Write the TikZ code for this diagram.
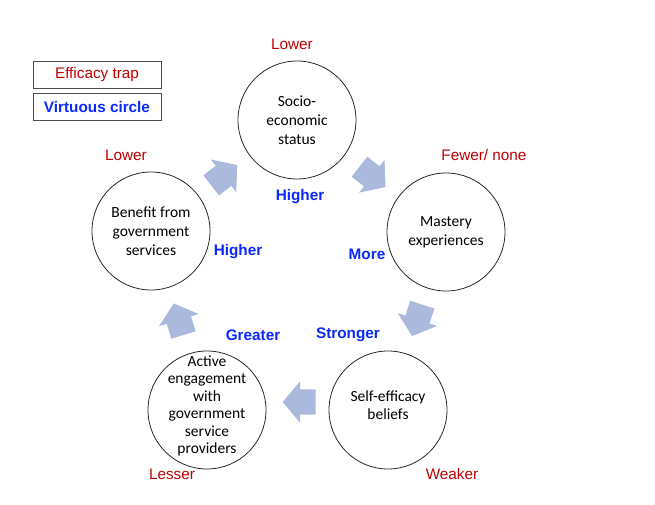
\documentclass[tikz,border=0pt]{standalone}
\usepackage{fontspec}
\setmainfont{Carlito}
\newfontfamily\arialfont{Liberation Sans}
\usetikzlibrary{shapes.arrows, calc, positioning}
\definecolor{trapred}{RGB}{192,0,0}
\definecolor{circleblue}{RGB}{10,40,255}
\definecolor{arrowblue}{RGB}{170,185,220}
\tikzstyle{stage} = [circle, draw=black!85, line width=0.8pt, minimum size=118pt, inner sep=0pt, align=center, font=\fontsize{15.5}{19}\selectfont]
\tikzstyle{stagetext} = [align=center, inner sep=0pt, font=\fontsize{15.5}{17.5}\selectfont]
\tikzstyle{flow} = [single arrow, fill=arrowblue, draw=none, minimum height=33pt, inner xsep=0pt, inner ysep=12.5pt, single arrow head extend=8pt, single arrow tip angle=100]
\tikzstyle{trap} = [text=trapred, font=\arialfont\fontsize{15.3}{18}\selectfont]
\tikzstyle{virtue} = [text=circleblue, font=\arialfont\bfseries\fontsize{15.3}{18}\selectfont]
\tikzstyle{legend} = [draw=black!70, line width=0.8pt, minimum width=128pt, minimum height=27pt, inner sep=0pt]

\begin{document}
\begin{tikzpicture}[x=1pt, y=1pt]
  \useasboundingbox (0,0) rectangle (655,505);

  % Legend
  \node[legend, trap] (keytrap) at (97,430) {Efficacy trap};
  \node[legend, virtue] (keyvirtue) at (97,398) {Virtuous circle};

  % The five stages
  \node[stage] (ses) at (297,385) {Socio-\\economic\\status};
  \node[stage] (mast) at (446,273) {Mastery\\experiences};
  \node[stage] (self) at (388,95) {};
  \node[stagetext] (selftext) at ($(self)+(0,5)$) {Self-efficacy\\beliefs};
  \node[stage] (act) at (207,95) {};
  \node[stagetext] (acttext) at ($(act)+(0,4)$) {Active\\engagement\\with\\government\\service\\providers};
  \node[stage] (ben) at (151,274) {Benefit from\\government\\services};

  % Block arrows between stages
  \node[flow, rotate=-38] (f1) at ($(ses)!0.5!(mast)!4pt!(ses)$) {};
  \node[flow, rotate=-108] (f2) at ($(mast)!0.5!(self)!6pt!(mast)$) {};
  \node[flow, rotate=180] (f3) at ($(self)!0.5!(act)!7pt!(self)+(0,8)$) {};
  \node[flow, rotate=107] (f4) at ($(act)!0.5!(ben)!4pt!(act)$) {};
  \node[flow, rotate=38] (f5) at ($(ben)!0.5!(ses)!5pt!(ben)$) {};

  % Efficacy trap labels
  \node[trap] (tses) at (292,461) {Lower};
  \node[trap] (tmast) at (484,350) {Fewer/ none};
  \node[trap] (tself) at (452,31) {Weaker};
  \node[trap] (tact) at (172,31) {Lesser};
  \node[trap] (tben) at (126,350) {Lower};

  % Virtuous circle labels
  \node[virtue] (vses) at (300,308) {Higher};
  \node[virtue] (vmast) at (367,251) {More};
  \node[virtue] (vself) at (348,170) {Stronger};
  \node[virtue] (vact) at (253,170) {Greater};
  \node[virtue] (vben) at (238,253) {Higher};
\end{tikzpicture}
\end{document}
